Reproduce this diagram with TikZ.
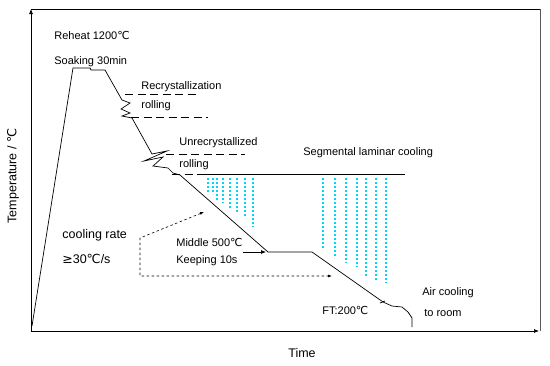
\documentclass[tikz,border=0pt]{standalone}
\usepackage{fontspec}
\setmainfont{Liberation Sans}
\newfontfamily\symfont{DejaVu Sans}
\newcommand{\degc}{{\symfont ℃}}
\newcommand{\geqsym}{{\symfont ≥}}
\usetikzlibrary{arrows.meta}
\definecolor{watercyan}{RGB}{0,215,245}

\begin{document}
\begin{tikzpicture}[x=1pt,y=-1pt,line width=0.7pt,
    lbl/.style={anchor=west,inner sep=0pt,font=\fontsize{11}{13}\selectfont},
    rolldash/.style={dash pattern=on 8pt off 4.5pt},
    spray/.style={watercyan,line width=1.1pt,dash pattern=on 2pt off 2pt},
    guide/.style={dash pattern=on 2.5pt off 2.5pt,line width=0.6pt}]
    \useasboundingbox (0,0) rectangle (550,365);
    % Frame and axes
    \coordinate (O) at (31,331);
    \coordinate (ytop) at (31,9);
    \coordinate (xend) at (539,331);
    \coordinate (tr) at (540,9);
    \draw (ytop) -- (tr);
    \draw[gray!70!black] (tr) -- (540,331);
    \draw[-{Latex[length=5pt,width=4pt]}] (O) -- (xend);
    \draw[-{Latex[length=5pt,width=4pt]}] (O) -- (ytop);
    \node[font=\fontsize{12.5}{14}\selectfont] (time) at (302,353) {Time};
    \node[rotate=90,font=\fontsize{12.5}{14}\selectfont] (temp) at (13,176) {Temperature / \degc};

    % Process curve
    \draw (32,326) -- (73,68) -- (90,68) -- (91,70) -- (105,70) -- (122,100)
        -- (130,103) -- (121,109) -- (130,113) -- (122,116) -- (132,118)
        -- (152,154) -- (167,151) -- (144,161) -- (163,157) -- (153,166)
        -- (168,168) -- (173,173) -- (180,175)
        -- (268,252) -- (312,252) -- (383,302) -- (392,306) -- (402,307)
        -- (408,312) -- (412,318) -- (412,327);
    \draw (380,303) -- (385,301);

    % Rolling windows
    \draw[rolldash] (125,94) -- (197,94);
    \draw[rolldash] (131,117) -- (208,117);
    \draw[rolldash] (166,154) -- (245,154);
    \draw[rolldash] (172,174) -- (225,174);
    \draw (200,174) -- (405,174);

    % Laminar cooling water
    \foreach \x/\y in {208/194, 213/194, 217/200, 223/203, 230/209, 237/212, 245/218, 253/227}
        \draw[spray] (\x,178) -- (\x,\y);
    \foreach \x/\y in {323/248, 335/258, 346/263, 357/267, 366/277, 376/282, 386/283}
        \draw[spray] (\x,178) -- (\x,\y);

    % Labels
    \node[lbl] (reheat) at (54,35) {Reheat 1200\degc};
    \node[lbl] (soak) at (54,62) {Soaking 30min};
    \node[lbl] (recry) at (141,87) {Recrystallization};
    \node[lbl] (roll1) at (141,106) {rolling};
    \node[lbl] (unrecry) at (179,143) {Unrecrystallized};
    \node[lbl] (roll2) at (179,165) {rolling};
    \node[lbl] (seg) at (303,153) {Segmental laminar cooling};
    \node[lbl,font=\fontsize{12.5}{14}\selectfont] (rate) at (62,235) {cooling rate};
    \node[lbl,font=\fontsize{12.5}{14}\selectfont] (rateval) at (62,259) {\geqsym30\degc/s};
    \node[lbl] (middle) at (176,242) {Middle 500\degc};
    \node[lbl] (keep) at (176,261) {Keeping 10s};
    \node[lbl] (ft) at (322,310) {FT:200\degc};
    \node[lbl] (air) at (422,293) {Air cooling};
    \node[lbl] (room) at (424,313) {to room};

    % Pointers
    \coordinate (hold) at (266,252);
    \draw[-{Latex[length=5pt,width=4pt]}] (243,252) -- (hold);
    \coordinate (fast1) at (204,212);
    \coordinate (fast2) at (332,276);
    \draw[guide,{Latex[length=4pt,width=3pt]}-{Latex[length=4pt,width=3pt]}] (fast1) -- (140,238) -- (140,276) -- (fast2);
\end{tikzpicture}
\end{document}
